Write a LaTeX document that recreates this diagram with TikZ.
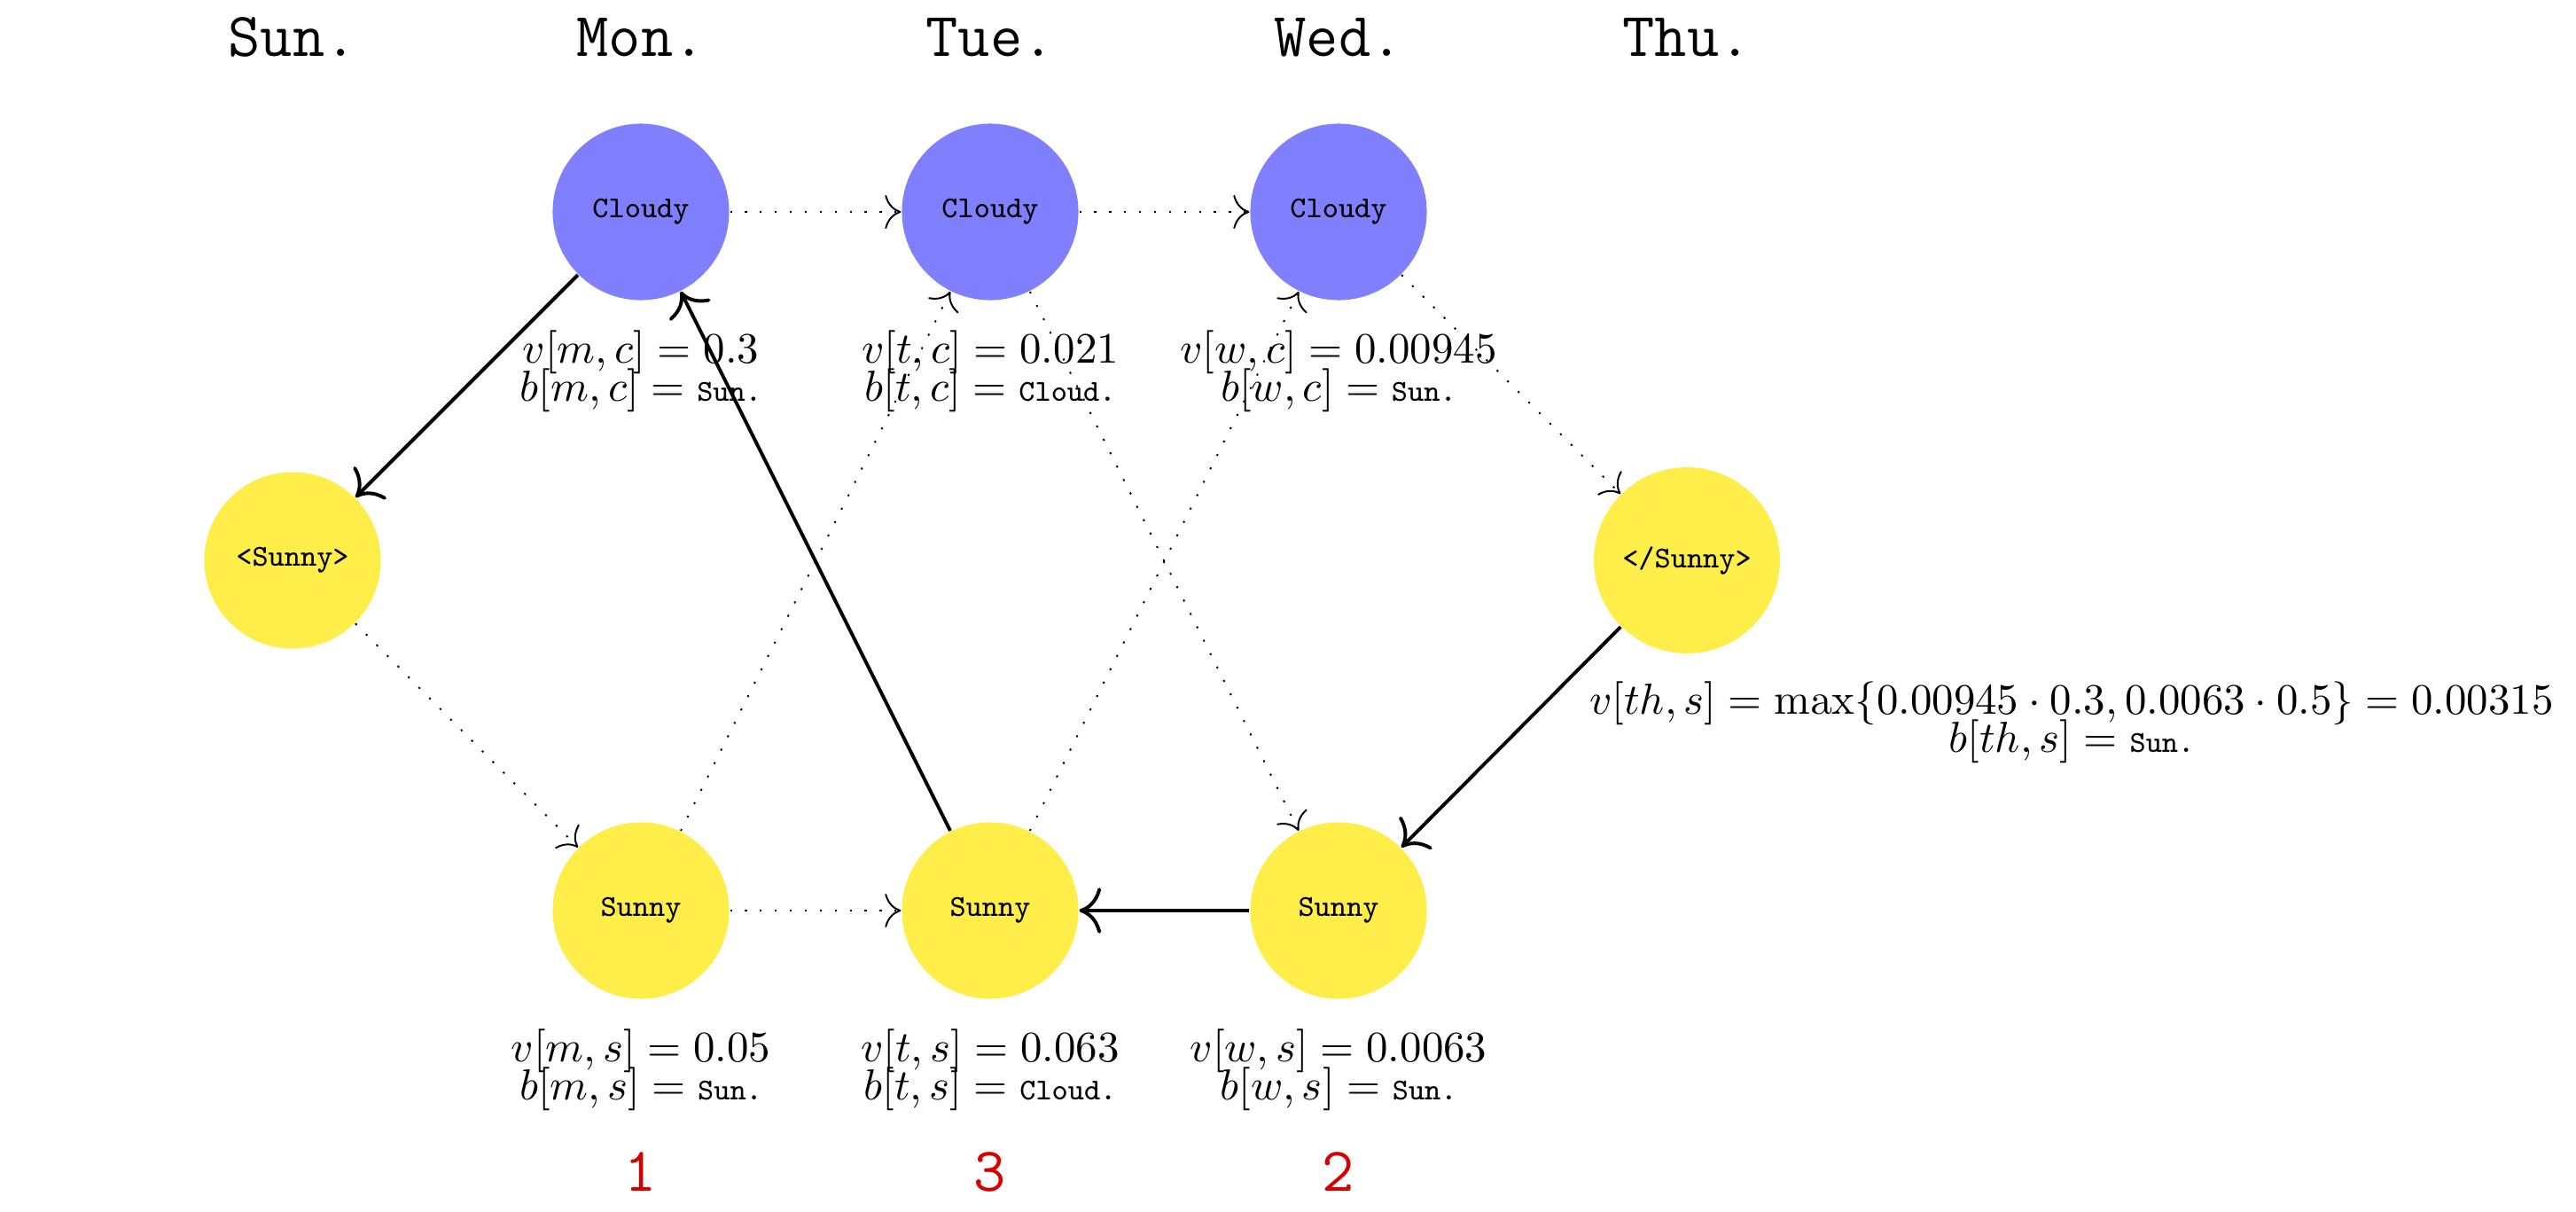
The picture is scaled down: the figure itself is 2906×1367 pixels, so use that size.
\documentclass[tikz,border=0pt]{standalone}
\usetikzlibrary{arrows.meta}
\definecolor{cloudblue}{RGB}{128,128,255}
\definecolor{sunyellow}{RGB}{255,238,74}
\definecolor{ordred}{RGB}{214,0,0}
\newcommand{\bday}[1]{\mbox{\scriptsize\ttfamily #1}}
\begin{document}
\begin{tikzpicture}[x=0.2044pt,y=-0.2044pt,
  state/.style={circle, inner sep=0pt, minimum size=40.7pt, font=\ttfamily\scriptsize},
  cloudy/.style={state, fill=cloudblue},
  sunny/.style={state, fill=sunyellow},
  day/.style={font=\ttfamily\Large, anchor=base, inner sep=0pt},
  score/.style={align=center, anchor=center, inner sep=0pt},
  order/.style={font=\ttfamily\Large, text=ordred, anchor=base, inner sep=0pt},
  trans/.style={-{To[scale=1.5]}, dash pattern=on 0.45pt off 3pt},
  back/.style={-{To[scale=1.5]}, thick},
]
\useasboundingbox (0,0) rectangle (2906,1367);

% day headers
\node[day] (hsun) at (330,64)  {Sun.};
\node[day] (hmon) at (723,64)  {Mon.};
\node[day] (htue) at (1117,64) {Tue.};
\node[day] (hwed) at (1510,64) {Wed.};
\node[day] (hthu) at (1903,64) {Thu.};

% states
\node[sunny]  (start) at (330,632)  {<Sunny>};
\node[cloudy] (mc) at (723,239)  {Cloudy};
\node[sunny]  (ms) at (723,1027) {Sunny};
\node[cloudy] (tc) at (1117,239) {Cloudy};
\node[sunny]  (ts) at (1117,1027) {Sunny};
\node[cloudy] (wc) at (1510,239) {Cloudy};
\node[sunny]  (ws) at (1510,1027) {Sunny};
\node[sunny, minimum size=42.9pt] (stop) at (1903,632) {</Sunny>};

% transitions
\draw[trans] (start) -- (ms);
\draw[trans] (mc) -- (tc);
\draw[trans] (ms) -- (ts);
\draw[trans] (ms) -- (tc);
\draw[trans] (tc) -- (wc);
\draw[trans] (tc) -- (ws);
\draw[trans] (ts) -- (wc);
\draw[trans] (wc) -- (stop);

% back pointers
\draw[back] (mc) -- (start);
\draw[back] (ts) -- (mc);
\draw[back] (ws) -- (ts);
\draw[back] (stop) -- (ws);

% scores
\node[score] (lmc) at (723,419)  {$v[m,c] = 0.3$\\[-3.3pt]$b[m,c] = \bday{Sun.}$};
\node[score] (ltc) at (1117,419) {$v[t,c] = 0.021$\\[-3.3pt]$b[t,c] = \bday{Cloud.}$};
\node[score] (lwc) at (1510,419) {$v[w,c] = 0.00945$\\[-3.3pt]$b[w,c] = \bday{Sun.}$};
\node[score] (lms) at (723,1207)  {$v[m,s] = 0.05$\\[-3.3pt]$b[m,s] = \bday{Sun.}$};
\node[score] (lts) at (1117,1207) {$v[t,s] = 0.063$\\[-3.3pt]$b[t,s] = \bday{Cloud.}$};
\node[score] (lws) at (1510,1207) {$v[w,s] = 0.0063$\\[-3.3pt]$b[w,s] = \bday{Sun.}$};
\node[score] (lstop) at (2337,815) {$v[th,s] = \max\{0.00945\cdot 0.3, 0.0063\cdot 0.5\} = 0.00315$\\[-3.3pt]$b[th,s] = \bday{Sun.}$};

% order of the backtrace
\node[order] (o1) at (723,1343)  {1};
\node[order] (o3) at (1117,1343) {3};
\node[order] (o2) at (1510,1343) {2};
\end{tikzpicture}
\end{document}
